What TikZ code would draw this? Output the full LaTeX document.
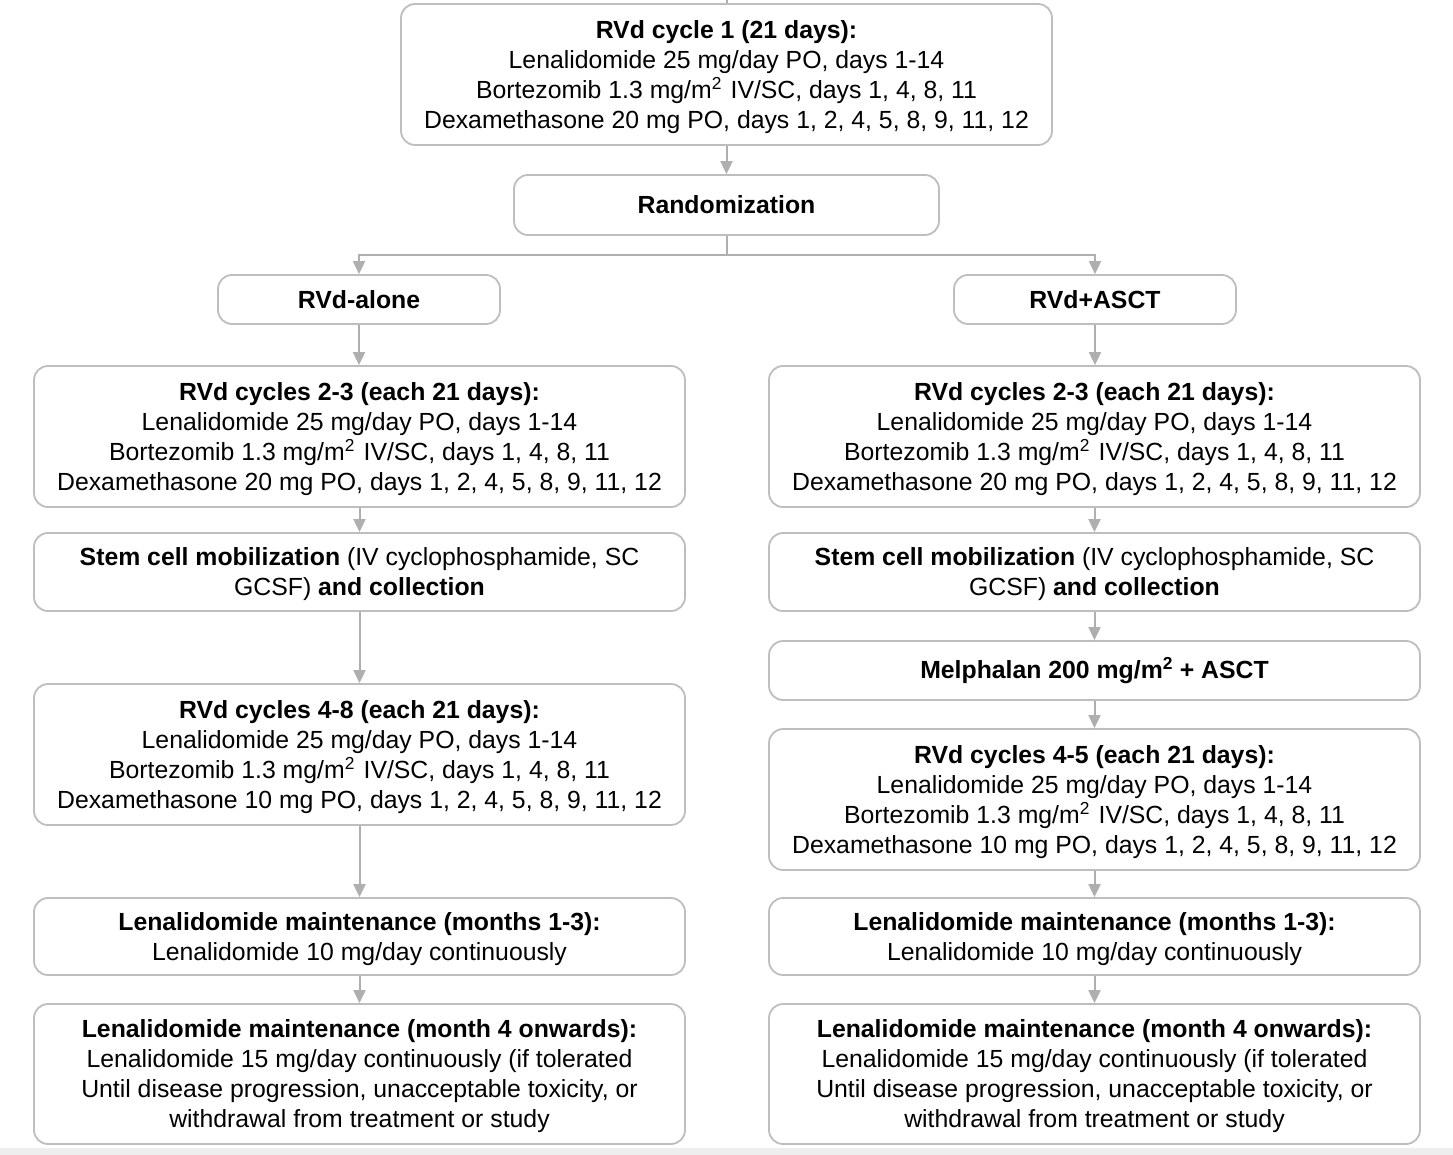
\documentclass[tikz,border=0pt]{standalone}
\usepackage{fontspec}
\setmainfont{Liberation Sans}
\usetikzlibrary{arrows.meta}
\definecolor{boxgray}{RGB}{190,190,190}
\definecolor{arrgray}{RGB}{175,175,175}
\definecolor{bandgray}{RGB}{238,238,238}
\newcommand{\sqm}{mg/m\textsuperscript{2}\hspace{0.35em}}
\begin{document}
\begin{tikzpicture}[x=1pt,y=-1pt,
 box/.style={draw=boxgray,line width=1.8pt,rounded corners=14pt,fill=white,align=center,inner sep=0pt,font=\fontsize{24.8}{30}\selectfont},
 mbox/.style={box,text depth=0pt},
 arr/.style={draw=arrgray,line width=2pt,-{Triangle[length=13pt,width=12pt]}},
 stub/.style={draw=arrgray,line width=2pt},
]
\useasboundingbox (0,0) rectangle (1453,1155);
\fill[bandgray] (0,1148) rectangle (1453,1155);

\node[mbox,minimum width=651pt,minimum height=141pt] (top) at (726.5,74.5)
 {\textbf{RVd cycle 1 (21 days):}\\Lenalidomide 25 mg/day PO, days 1-14\\Bortezomib 1.3 \sqm{}IV/SC, days 1, 4, 8, 11\\Dexamethasone 20 mg PO, days 1, 2, 4, 5, 8, 9, 11, 12};
\coordinate (in) at (726.5,0);

\node[box,minimum width=425pt,minimum height=60pt] (rand) at (726.5,205) {\textbf{Randomization}};
\node[box,minimum width=282pt,minimum height=49pt] (alone) at (359,299.5) {\textbf{RVd-alone}};
\node[box,minimum width=282pt,minimum height=49pt] (asct) at (1095,299.5) {\textbf{RVd+ASCT}};

% left column
\node[mbox,minimum width=651pt,minimum height=141pt] (L1) at (359.5,436.5)
 {\textbf{RVd cycles 2-3 (each 21 days):}\\Lenalidomide 25 mg/day PO, days 1-14\\Bortezomib 1.3 \sqm{}IV/SC, days 1, 4, 8, 11\\Dexamethasone 20 mg PO, days 1, 2, 4, 5, 8, 9, 11, 12};
\node[mbox,minimum width=651pt,minimum height=78pt] (L2) at (359.5,572)
 {\textbf{Stem cell mobilization} (IV cyclophosphamide, SC\\GCSF) \textbf{and collection}};
\node[mbox,minimum width=651pt,minimum height=141pt] (L3) at (359.5,754.5)
 {\textbf{RVd cycles 4-8 (each 21 days):}\\Lenalidomide 25 mg/day PO, days 1-14\\Bortezomib 1.3 \sqm{}IV/SC, days 1, 4, 8, 11\\Dexamethasone 10 mg PO, days 1, 2, 4, 5, 8, 9, 11, 12};
\node[mbox,minimum width=651pt,minimum height=77pt] (L4) at (359.5,936.5)
 {\textbf{Lenalidomide maintenance (months 1-3):}\\Lenalidomide 10 mg/day continuously};
\node[mbox,minimum width=651pt,minimum height=140pt] (L5) at (359.5,1074)
 {\textbf{Lenalidomide maintenance (month 4 onwards):}\\Lenalidomide 15 mg/day continuously (if tolerated\\Until disease progression, unacceptable toxicity, or\\withdrawal from treatment or study};

% right column
\node[mbox,minimum width=651pt,minimum height=141pt] (R1) at (1094.5,436.5)
 {\textbf{RVd cycles 2-3 (each 21 days):}\\Lenalidomide 25 mg/day PO, days 1-14\\Bortezomib 1.3 \sqm{}IV/SC, days 1, 4, 8, 11\\Dexamethasone 20 mg PO, days 1, 2, 4, 5, 8, 9, 11, 12};
\node[mbox,minimum width=651pt,minimum height=78pt] (R2) at (1094.5,572)
 {\textbf{Stem cell mobilization} (IV cyclophosphamide, SC\\GCSF) \textbf{and collection}};
\node[box,minimum width=651pt,minimum height=59pt] (R3) at (1094.5,670.5)
 {\textbf{Melphalan 200 mg/m\textsuperscript{2} + ASCT}};
\node[mbox,minimum width=651pt,minimum height=141pt] (R4) at (1094.5,799.5)
 {\textbf{RVd cycles 4-5 (each 21 days):}\\Lenalidomide 25 mg/day PO, days 1-14\\Bortezomib 1.3 \sqm{}IV/SC, days 1, 4, 8, 11\\Dexamethasone 10 mg PO, days 1, 2, 4, 5, 8, 9, 11, 12};
\node[mbox,minimum width=651pt,minimum height=77pt] (R5) at (1094.5,936.5)
 {\textbf{Lenalidomide maintenance (months 1-3):}\\Lenalidomide 10 mg/day continuously};
\node[mbox,minimum width=651pt,minimum height=140pt] (R6) at (1094.5,1074)
 {\textbf{Lenalidomide maintenance (month 4 onwards):}\\Lenalidomide 15 mg/day continuously (if tolerated\\Until disease progression, unacceptable toxicity, or\\withdrawal from treatment or study};

% connectors
\draw[stub] (in) -- (top.north);
\draw[arr] (top.south) -- (rand.north);
\coordinate (split) at (726.5,255);
\draw[stub] (rand.south) -- (split);
\draw[arr] (split) -| (alone.north);
\draw[arr] (split) -| (asct.north);
\draw[arr] (alone.south) -- (alone.south |- L1.north);
\draw[arr] (L1.south) -- (L2.north);
\draw[arr] (L2.south) -- (L3.north);
\draw[arr] (L3.south) -- (L4.north);
\draw[arr] (L4.south) -- (L5.north);
\draw[arr] (asct.south) -- (asct.south |- R1.north);
\draw[arr] (R1.south) -- (R2.north);
\draw[arr] (R2.south) -- (R3.north);
\draw[arr] (R3.south) -- (R4.north);
\draw[arr] (R4.south) -- (R5.north);
\draw[arr] (R5.south) -- (R6.north);
\end{tikzpicture}
\end{document}
